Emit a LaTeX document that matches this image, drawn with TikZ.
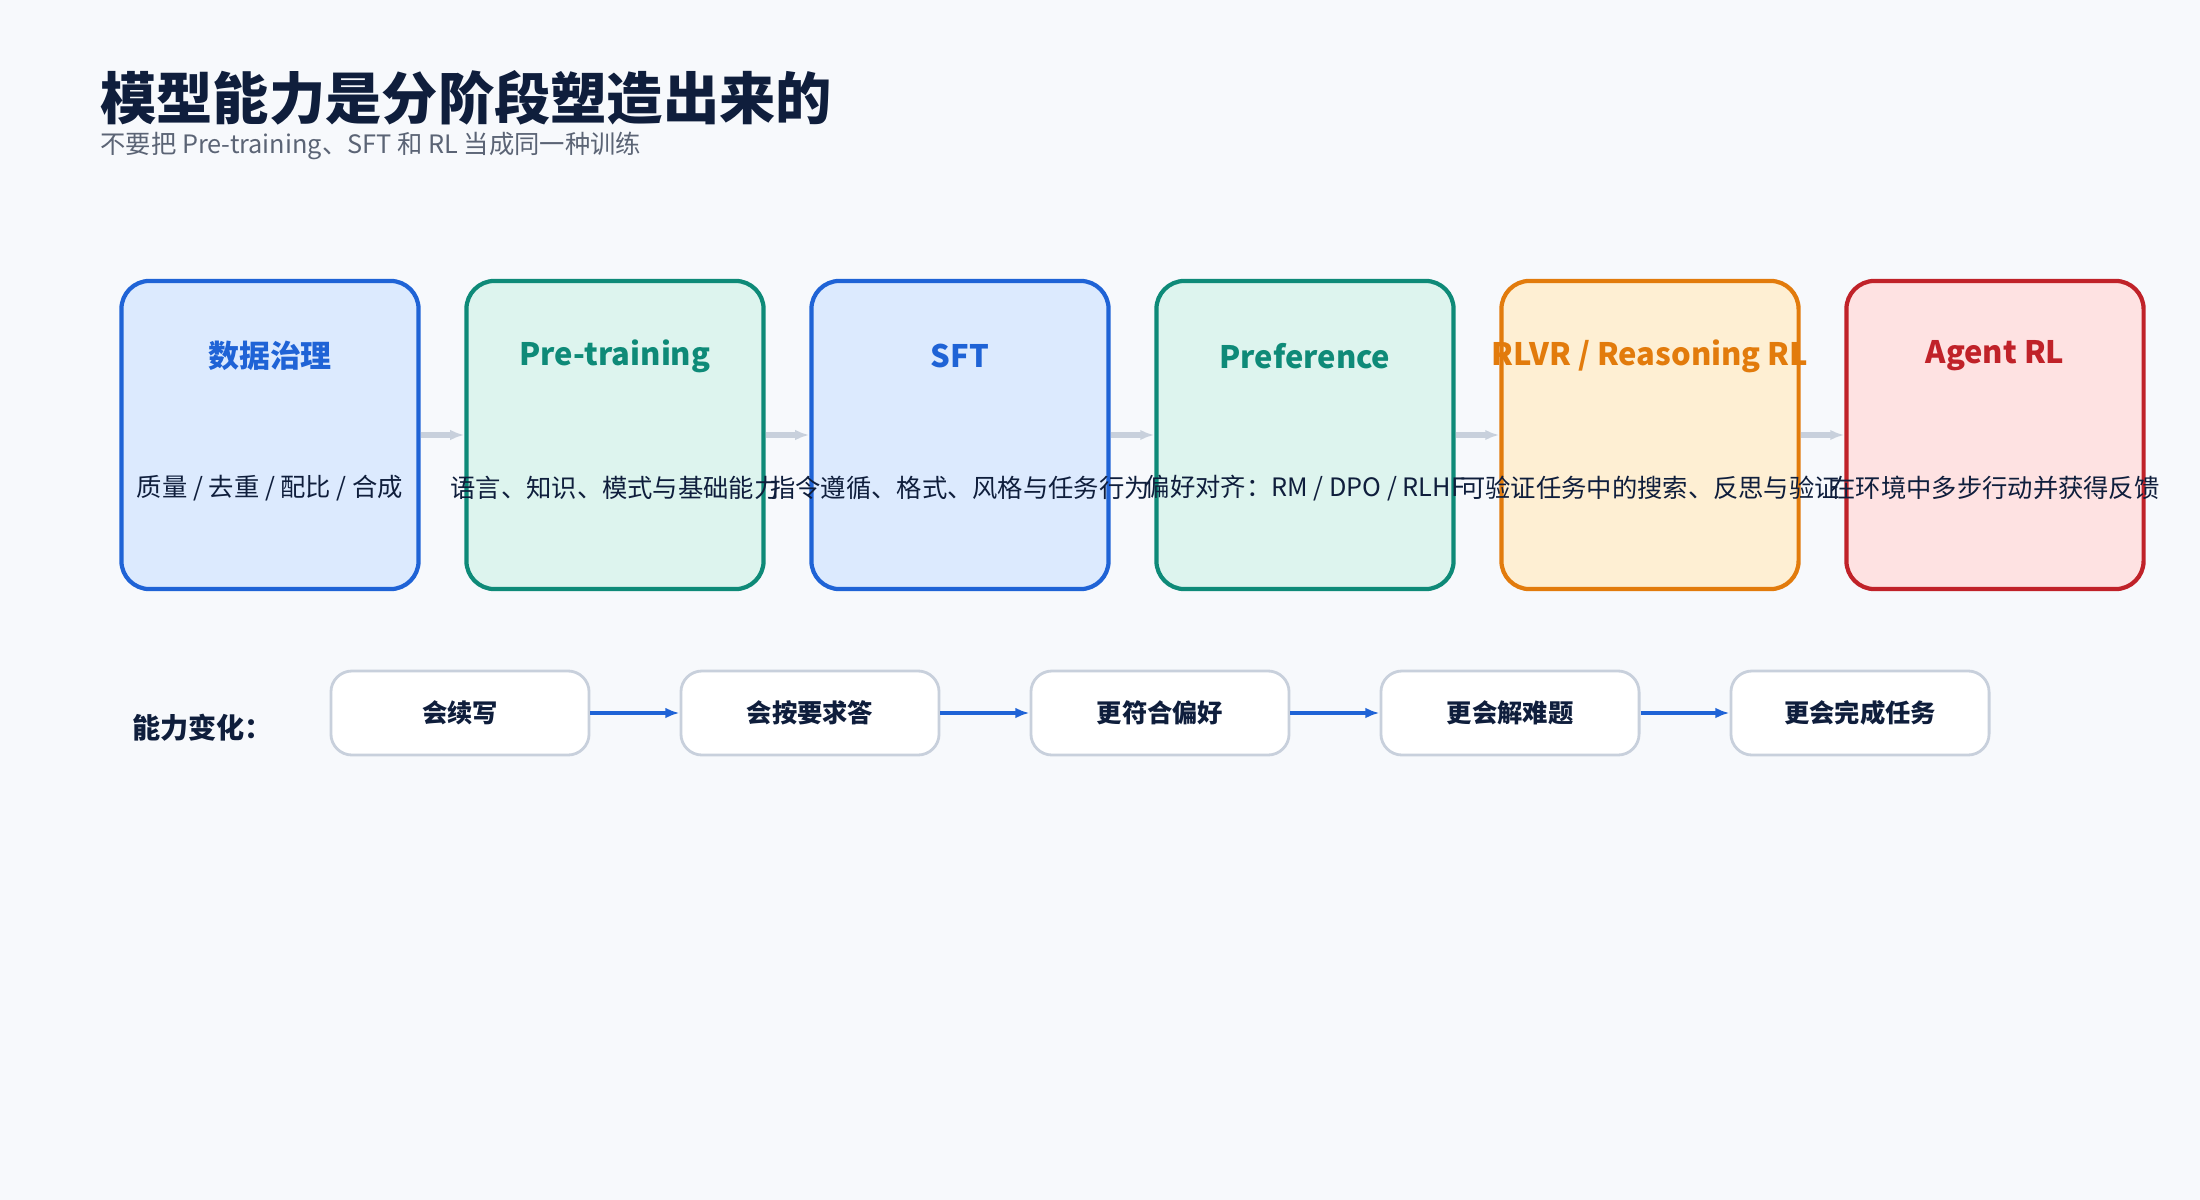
\documentclass[tikz,border=0pt]{standalone}
\usepackage{fontspec}
\setmainfont{Noto Sans CJK SC}
\usetikzlibrary{positioning,arrows.meta}
\definecolor{bg}{HTML}{F7F9FC}
\definecolor{ink}{HTML}{0F1E3C}
\definecolor{sub}{HTML}{5B6475}
\definecolor{blueF}{HTML}{DCEAFE}
\definecolor{blueD}{HTML}{1F63D6}
\definecolor{tealF}{HTML}{DDF4EE}
\definecolor{tealD}{HTML}{0E8A78}
\definecolor{orgF}{HTML}{FEEFD3}
\definecolor{orgD}{HTML}{E27B0C}
\definecolor{redF}{HTML}{FEE2E2}
\definecolor{redD}{HTML}{C02229}
\definecolor{gline}{HTML}{C8D0DC}
\tikzset{
  stage/.style={draw=#1D, fill=#1F, line width=1.2pt, rounded corners=8pt,
    minimum width=2.97cm, minimum height=3.08cm},
  stitle/.style={font=\fontsize{8.8}{10}\selectfont\bfseries},
  sbody/.style={font=\fontsize{7.2}{9}\selectfont, text=ink},
  gain/.style={draw=gline, fill=white, line width=0.8pt, rounded corners=6pt,
    minimum width=2.58cm, minimum height=0.84cm, font=\fontsize{7.2}{9}\selectfont\bfseries, text=ink},
  flow/.style={draw=gline, line width=1.6pt, -{Latex[length=4pt]}},
  gainflow/.style={draw=blueD, line width=1.2pt, -{Latex[length=4pt]}}
}
\begin{document}
\begin{tikzpicture}[x=0.01cm,y=-0.01cm]
\fill[bg] (0,0) rectangle (2200,1200);
\node[anchor=west, text=ink, font=\fontsize{16}{18}\selectfont\bfseries] (title) at (88,98) {模型能力是分阶段塑造出来的};
\node[anchor=west, text=sub, font=\fontsize{7.2}{9}\selectfont] (subtitle) at (88,146) {不要把 Pre-training、SFT 和 RL 当成同一种训练};
% stages
\node[stage=blue] (s1) at (270,435) {};
\node[stage=teal] (s2) at (615,435) {};
\node[stage=blue] (s3) at (960,435) {};
\node[stage=teal] (s4) at (1305,435) {};
\node[stage=org]  (s5) at (1650,435) {};
\node[stage=red]  (s6) at (1995,435) {};
\foreach \n/\c/\t/\b in {s1/blueD/{数据治理}/{质量 / 去重 / 配比 / 合成},
  s2/tealD/{Pre-training}/{语言、知识、模式与基础能力},
  s3/blueD/{SFT}/{指令遵循、格式、风格与任务行为},
  s4/tealD/{Preference}/{偏好对齐：RM / DPO / RLHF},
  s5/orgD/{RLVR / Reasoning RL}/{可验证任务中的搜索、反思与验证},
  s6/redD/{Agent RL}/{在环境中多步行动并获得反馈}}{
  \node[stitle, text=\c] at ([yshift=-0.77cm]\n.north) {\t};
  \node[sbody] at ([yshift=-0.53cm]\n.center) {\b};
}
\foreach \a/\b in {s1/s2,s2/s3,s3/s4,s4/s5,s5/s6}
  \draw[flow] (\a.east) -- (\b.west);
% gains
\node[anchor=west, text=ink, font=\fontsize{8}{10}\selectfont\bfseries] (lab) at (120,728) {能力变化：};
\node[gain] (g1) at (460,713) {会续写};
\node[gain] (g2) at (810,713) {会按要求答};
\node[gain] (g3) at (1160,713) {更符合偏好};
\node[gain] (g4) at (1510,713) {更会解难题};
\node[gain] (g5) at (1860,713) {更会完成任务};
\foreach \a/\b in {g1/g2,g2/g3,g3/g4,g4/g5}
  \draw[gainflow] (\a.east) -- (\b.west);
\end{tikzpicture}
\end{document}
